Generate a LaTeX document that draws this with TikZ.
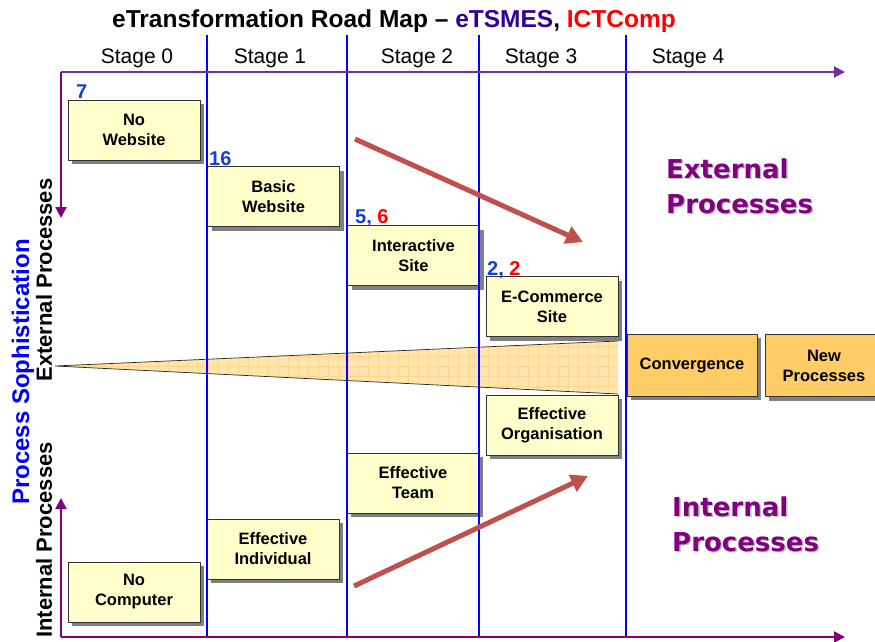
\documentclass[tikz,border=0pt]{standalone}
\usepackage{fontspec}
\setmainfont{Liberation Sans}
\newfontfamily\verdfont{DejaVu Sans}
\usetikzlibrary{arrows.meta,shadows}
\definecolor{boxyel}{HTML}{FFFFCC}
\definecolor{convor}{HTML}{FFCC66}
\definecolor{trifill}{HTML}{FFE6B0}
\definecolor{trigrid}{HTML}{FFD58A}
\definecolor{axpurp}{HTML}{7030A0}
\definecolor{purp}{HTML}{800080}
\definecolor{numblue}{HTML}{1440D0}
\definecolor{ttlblue}{HTML}{330099}
\definecolor{arrred}{HTML}{C0504D}
\definecolor{labblue}{HTML}{0000FF}
\definecolor{stageblue}{HTML}{0000FF}
\begin{document}
\begin{tikzpicture}[x=1pt,y=-1pt,
  stagebox/.style={draw=black!80, line width=0.8pt, fill=boxyel,
    minimum width=132pt, minimum height=60pt, inner sep=0pt, align=center,
    font=\fontsize{16.5}{20}\selectfont\bfseries,
    drop shadow={shadow xshift=4pt, shadow yshift=-4pt, fill=black!50, opacity=1}},
  convbox/.style={stagebox, fill=convor, minimum width=130pt, minimum height=62pt},
  numlab/.style={anchor=base west, inner sep=0pt, font=\fontsize{20}{20}\selectfont\bfseries, text=numblue},
  stagelab/.style={anchor=base, inner sep=0pt, font=\fontsize{21}{21}\selectfont},
  biglab/.style={anchor=base west, inner sep=0pt, font=\verdfont\fontsize{26}{26}\selectfont\bfseries, text=purp},
  bigshadow/.style={biglab, text=black!25},
  sidelab/.style={rotate=90, inner sep=0pt, font=\fontsize{22}{22}\selectfont\bfseries},
  stageline/.style={stageblue, line width=2pt},
  axtop/.style={axpurp, line width=2pt, -{Triangle[length=11pt,width=11pt]}},
  axbot/.style={purp, line width=2pt, -{Triangle[length=11pt,width=11pt]}},
  redarr/.style={arrred, line width=5pt, -{Triangle[length=17pt,width=18pt]}}
]
\useasboundingbox (0,0) rectangle (875,641);

% title
\node[anchor=base, inner sep=0pt, font=\fontsize{24.5}{24.5}\selectfont\bfseries] (title) at (394,27)
  {eTransformation Road Map -- \textcolor{ttlblue}{eTSMES}, \textcolor{red}{ICTComp}};

% stage labels
\node[stagelab] (s0) at (137,63) {Stage 0};
\node[stagelab] (s1) at (270,63) {Stage 1};
\node[stagelab] (s2) at (417,63) {Stage 2};
\node[stagelab] (s3) at (541,63) {Stage 3};
\node[stagelab] (s4) at (688,63) {Stage 4};

% triangle
\fill[trifill] (55,366) -- (618,341) -- (618,394) -- cycle;
\begin{scope}
  \clip (55,366) -- (618,341) -- (618,394) -- cycle;
  \foreach \gx in {58,68,...,618} \draw[trigrid, line width=0.5pt] (\gx,330) -- (\gx,400);
  \foreach \gy in {336,346,...,400} \draw[trigrid, line width=0.5pt] (50,\gy) -- (620,\gy);
\end{scope}
\draw[black!85, line width=0.7pt] (618,341) -- (55,366) -- (618,394);

% boxes
\node[stagebox] (nw) at (134,130) {No\\Website};
\node[stagebox] (bw) at (273.5,196.5) {Basic\\Website};
\node[stagebox] (is) at (413.5,255.5) {Interactive\\Site};
\node[stagebox] (ec) at (552,306.5) {E-Commerce\\Site};
\node[convbox] (cv) at (692,365) {Convergence};
\node[convbox, minimum width=118pt] (np) at (824,365.5) {New\\Processes};
\node[stagebox] (eo) at (552,425) {Effective\\Organisation};
\node[stagebox] (et) at (413,483) {Effective\\Team};
\node[stagebox] (ei) at (273,549) {Effective\\Individual};
\node[stagebox] (nc) at (134,592) {No\\Computer};

% numbers
\node[numlab] (n7) at (76,98) {7};
\node[numlab] (n16) at (209,165) {16};
\node[numlab] (n56) at (355,223) {5, \textcolor{red}{6}};
\node[numlab] (n22) at (487,275) {2, \textcolor{red}{2}};

% stage lines
\foreach \sx/\nm in {207/a,347/b,479/c,626/d} {
  \coordinate (lt\nm) at (\sx,35);
  \coordinate (lb\nm) at (\sx,637);
  \draw[stageline] (lt\nm) -- (lb\nm);
}

% axes
\coordinate (ot) at (61,72);
\coordinate (ote) at (845,72);
\coordinate (otd) at (61,218);
\coordinate (ob) at (61,637);
\coordinate (obe) at (845,637);
\coordinate (obu) at (61,498);
\draw[axtop] (ot) -- (ote);
\draw[axbot] (ot) -- (otd);
\draw[axbot] (ob) -- (obe);
\draw[axbot] (ob) -- (obu);

% red arrows
\coordinate (ra1) at (355,139);
\coordinate (ra2) at (583,242);
\coordinate (rb1) at (354,586);
\coordinate (rb2) at (588,476);
\draw[redarr] (ra1) -- (ra2);
\draw[redarr] (rb1) -- (rb2);

% big labels
\node[bigshadow] (exs1) at (667.5,179.5) {External};
\node[bigshadow] (exs2) at (667.5,214.5) {Processes};
\node[biglab] (ex1) at (666,178) {External};
\node[biglab] (ex2) at (666,213) {Processes};
\node[bigshadow] (ins1) at (673.5,517.5) {Internal};
\node[bigshadow] (ins2) at (673.5,552.5) {Processes};
\node[biglab] (in1) at (672,516) {Internal};
\node[biglab] (in2) at (672,551) {Processes};

% side labels
\node[sidelab, font=\fontsize{24}{24}\selectfont\bfseries, text=labblue] (ps) at (23,372) {Process Sophistication};
\node[sidelab] (ep) at (44,280) {External Processes};
\node[sidelab] (ip) at (44,540) {Internal Processes};
\end{tikzpicture}
\end{document}
